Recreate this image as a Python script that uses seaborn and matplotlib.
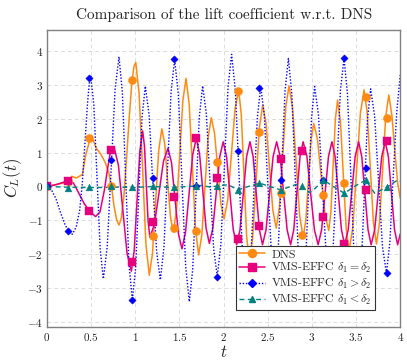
import numpy as np
import pandas as pd
import seaborn as sns
import matplotlib.pyplot as plt
from matplotlib.lines import Line2D
from matplotlib.ticker import FuncFormatter, MultipleLocator

# --- data (t, C_L) ---
dns_pts = [(0, 0), (0.06, 0.03), (0.12, 0.07), (0.19, 0.1), (0.23, 0.2), (0.25, -0.05), (0.28, 0.3),
           (0.33, 0.25), (0.40, 0.35), (0.44, 0.95), (0.49, 1.42), (0.52, 1.38), (0.56, 1.12), (0.61, 0.95),
           (0.66, 0.7), (0.70, 0.4), (0.73, 0.0), (0.76, -0.6), (0.79, -1.0), (0.815, -1.14), (0.84, -0.95),
           (0.87, -0.3), (0.90, 0.8), (0.93, 2.0), (0.96, 3.05), (0.985, 3.55), (1.005, 3.66),
           (1.043, 2.74), (1.082, 0.52), (1.120, -1.70), (1.158, -2.62), (1.194, -1.99), (1.229, -0.46),
           (1.265, 1.07), (1.30, 1.70), (1.333, 1.26), (1.365, 0.18), (1.398, -0.90), (1.43, -1.35),
           (1.466, -0.69), (1.502, 0.92), (1.538, 2.53), (1.574, 3.19), (1.610, 2.43), (1.646, 0.58),
           (1.681, -1.26), (1.717, -2.02), (1.753, -1.43), (1.789, 0.0), (1.824, 1.44), (1.86, 2.03),
           (1.896, 1.59), (1.933, 0.54), (1.969, -0.52), (2.005, -0.96), (2.046, -0.40), (2.088, 0.95),
           (2.129, 2.29), (2.17, 2.85), (2.20, 2.11), (2.23, 0.33), (2.26, -1.46), (2.29, -2.2),
           (2.328, -1.53), (2.366, 0.10), (2.404, 1.73), (2.442, 2.4), (2.48, 1.87), (2.518, 0.59),
           (2.557, -0.70), (2.595, -1.23), (2.631, -0.62), (2.668, 0.87), (2.704, 2.36), (2.74, 2.97),
           (2.78, 2.32), (2.82, 0.74), (2.86, -0.85), (2.90, -1.5), (2.93, -1.01), (2.96, 0.18),
           (2.99, 1.37), (3.02, 1.86), (3.062, 1.40), (3.105, 0.28), (3.148, -0.84), (3.19, -1.3),
           (3.215, -0.74), (3.24, 0.63), (3.265, 1.99), (3.29, 2.55), (3.323, 1.90), (3.355, 0.33),
           (3.388, -1.25), (3.42, -1.9), (3.462, -1.21), (3.505, 0.48), (3.548, 2.16), (3.59, 2.85),
           (3.625, 2.19), (3.66, 0.58), (3.695, -1.04), (3.73, -1.7), (3.765, -1.06), (3.80, 0.5),
           (3.835, 2.06), (3.87, 2.7), (3.905, 2.1), (3.94, 1.0), (3.97, 0.1), (4.0, -0.35)]

eq_pts = [(0, 0), (0.1, 0.05), (0.18, 0.12), (0.241, 0.17), (0.3, 0.1), (0.36, -0.2), (0.42, -0.5),
          (0.48, -0.72), (0.55, -0.89), (0.6, -0.75), (0.65, -0.1), (0.69, 0.6), (0.722, 1.08),
          (0.76, 1.15), (0.809, 0.62), (0.858, -0.68), (0.906, -1.97), (0.955, -2.5), (0.987, -1.90),
          (1.019, -0.43), (1.051, 1.04), (1.083, 1.64), (1.104, 1.18), (1.124, 0.07), (1.145, -1.04),
          (1.165, -1.5), (1.216, -1.12), (1.268, -0.19), (1.319, 0.75), (1.37, 1.13), (1.41, 0.70),
          (1.449, -0.36), (1.489, -1.41), (1.528, -1.84), (1.568, -1.36), (1.609, -0.21), (1.65, 0.94),
          (1.69, 1.42), (1.727, 0.97), (1.764, -0.13), (1.801, -1.23), (1.838, -1.68), (1.877, -1.24),
          (1.917, -0.18), (1.956, 0.88), (1.995, 1.32),
          (2.033, 0.88), (2.071, -0.20), (2.109, -1.28), (2.147, -1.72),
          (2.185, -1.28), (2.223, -0.20), (2.26, 0.88), (2.298, 1.32),
          (2.334, 0.88), (2.369, -0.20), (2.405, -1.28), (2.44, -1.72),
          (2.48, -1.28), (2.52, -0.20), (2.56, 0.88), (2.6, 1.32),
          (2.64, 0.88), (2.679, -0.20), (2.719, -1.28), (2.758, -1.72),
          (2.794, -1.28), (2.829, -0.20), (2.865, 0.88), (2.9, 1.32),
          (2.943, 0.88), (2.985, -0.20), (3.028, -1.28), (3.07, -1.72),
          (3.109, -1.28), (3.148, -0.20), (3.187, 0.88), (3.226, 1.32),
          (3.262, 0.88), (3.298, -0.20), (3.334, -1.28), (3.37, -1.72),
          (3.41, -1.28), (3.449, -0.20), (3.489, 0.88), (3.528, 1.32),
          (3.564, 0.88), (3.599, -0.20), (3.635, -1.28), (3.67, -1.72),
          (3.71, -1.28), (3.75, -0.20), (3.79, 0.88), (3.83, 1.32),
          (3.865, 0.88), (3.9, -0.20), (3.935, -1.28), (3.97, -1.72), (4.0, -1.4)]

gt_pts = [(0, 0), (0.05, -0.1), (0.1, -0.35), (0.15, -0.75), (0.2, -1.1), (0.241, -1.31), (0.287, -1.41),
          (0.33, -1.2), (0.37, -0.7), (0.40, 0.1), (0.43, 1.3), (0.46, 2.5), (0.481, 3.1), (0.494, 3.29),
          (0.53, 2.41), (0.566, 0.28), (0.602, -1.85), (0.638, -2.73), (0.682, -1.77), (0.727, 0.55),
          (0.771, 2.87), (0.815, 3.83), (0.853, 2.78), (0.891, 0.24), (0.928, -2.30), (0.966, -3.35),
          (1.003, -2.43), (1.04, -0.20), (1.076, 2.04), (1.113, 2.96), (1.156, 2.12), (1.198, 0.10),
          (1.241, -1.92), (1.283, -2.76), (1.324, -1.81), (1.364, 0.50), (1.405, 2.80), (1.445, 3.75),
          (1.487, 2.71), (1.528, 0.18), (1.57, -2.36), (1.611, -3.4), (1.649, -2.47), (1.687, -0.22),
          (1.724, 2.04), (1.762, 2.97), (1.804, 2.15), (1.845, 0.16), (1.887, -1.84), (1.928, -2.66),
          (1.969, -1.70), (2.009, 0.62), (2.05, 2.94), (2.09, 3.9), (2.133, 2.83), (2.176, 0.25),
          (2.219, -2.33), (2.262, -3.4), (2.302, -2.47), (2.341, -0.23), (2.381, 2.02), (2.42, 2.95),
          (2.46, 2.11), (2.5, 0.08), (2.54, -1.96), (2.58, -2.8), (2.618, -1.84), (2.657, 0.49),
          (2.695, 2.82), (2.733, 3.78), (2.772, 2.73), (2.812, 0.19), (2.851, -2.35), (2.89, -3.4),
          (2.925, -2.47), (2.96, -0.23), (2.995, 2.02), (3.03, 2.95), (3.073, 2.13), (3.115, 0.13),
          (3.158, -1.88), (3.2, -2.7), (3.241, -1.75), (3.282, 0.54), (3.322, 2.83), (3.363, 3.78),
          (3.402, 2.73), (3.442, 0.19), (3.481, -2.35), (3.52, -3.4), (3.556, -2.48), (3.592, -0.26),
          (3.628, 1.96), (3.664, 2.88), (3.709, 2.09), (3.754, 0.16), (3.798, -1.77), (3.843, -2.56),
          (3.882, -1.65), (3.92, 0.3), (3.96, 2.2), (4.0, 3.3)]

lt_pts = [(0, 1.72), (0.004, 0.0), (0.2, -0.02), (0.4, -0.03), (0.6, -0.03), (0.8, -0.02), (1.0, -0.03),
          (1.2, 0.0), (1.4, -0.03), (1.6, 0.0), (1.75, 0.03), (1.85, -0.02), (1.93, 0.02), (2.05, 0.05),
          (2.165, -0.1), (2.28, 0.0), (2.405, 0.1), (2.52, 0.0), (2.646, -0.1), (2.76, 0.0), (2.82, 0.06),
          (2.886, 0.0), (2.97, -0.18), (3.04, -0.05), (3.127, 0.2), (3.24, 0.0), (3.367, -0.2),
          (3.48, 0.0), (3.608, 0.19), (3.71, -0.2), (3.848, -0.02), (3.97, 0.19), (4.0, 0.15)]

# marker positions (every 0.2405 s)
mark_t = [0, 0.241, 0.481, 0.722, 0.962, 1.203, 1.443, 1.684, 1.924, 2.165, 2.405, 2.646, 2.886,
          3.127, 3.367, 3.608, 3.848]
dns_mark = [0, 0.15, 1.42, 0.0, 3.13, -1.45, -1.22, -1.3, 0.73, 2.82, 1.6, -0.2, -1.43, -0.25, 0.1, 2.65, 2.03]
eq_mark = [0, 0.17, -0.72, 1.08, -2.22, -1.04, -0.3, 1.42, 0.26, -1.56, -1.18, 0.8, 1.05, -0.89, -1.71, -0.1, 1.34]
gt_mark = [0, -1.31, 3.2, 0.78, -3.35, 0.24, 3.75, 0.0, -2.66, 1.05, 2.9, 0.19, -3.4, 0.19, 3.78, 0.54, -2.56]
lt_mark = [0, -0.05, -0.03, 0, -0.03, 0.01, -0.03, 0, 0.0, -0.1, 0.1, -0.1, 0.0, 0.2, -0.2, 0.19, -0.02]

labels = ['DNS', r'VMS-EFFC $\delta_1 = \delta_2$', r'VMS-EFFC $\delta_1 > \delta_2$',
          r'VMS-EFFC $\delta_1 < \delta_2$']

# --- style ---
sns.set_style('whitegrid')
plt.rcParams['font.family'] = ['cmr10', 'DejaVu Serif']
plt.rcParams['mathtext.fontset'] = 'cm'
plt.rcParams['axes.formatter.use_mathtext'] = True

orange, pink, blue, teal = '#ff8a12', '#e6007e', '#0000ff', '#008080'

fig = plt.figure(figsize=(4.07, 3.61), dpi=100)
ax = fig.add_axes([0.1155, 0.095, 0.868, 0.822])

series = [
    (dns_pts, dns_mark, orange, '-', 1.1, 'o', 34),
    (eq_pts, eq_mark, pink, '-', 1.1, 's', 30),
    (gt_pts, gt_mark, blue, (0, (1, 1.3)), 1.0, 'D', 14),
    (lt_pts, lt_mark, teal, (0, (3.5, 2.5)), 1.0, '^', 24),
]
handles = []
for (pts, mk, col, ls, lw, m, s), lab in zip(series, labels):
    df = pd.DataFrame(pts, columns=['t', 'cl'])
    sns.lineplot(data=df, x='t', y='cl', sort=False, estimator=None, ax=ax,
                 color=col, linestyle=ls, linewidth=lw)
    sns.scatterplot(x=mark_t, y=mk, ax=ax, color=col, marker=m, s=s,
                    edgecolor=col, linewidth=0.3, zorder=3)
    handles.append(Line2D([], [], color=col, linestyle=ls, linewidth=lw, marker=m,
                          markersize=np.sqrt(s), markeredgecolor=col))

ax.set_xlim(0, 4)
ax.set_ylim(-4.14, 4.62)
ax.xaxis.set_major_locator(MultipleLocator(0.5))
ax.yaxis.set_major_locator(MultipleLocator(1))
fmt = FuncFormatter(lambda v, p: f'${v:g}$')
ax.xaxis.set_major_formatter(fmt)
ax.yaxis.set_major_formatter(fmt)
ax.tick_params(labelsize=8, colors='#222222', length=3, direction='in', pad=3)
ax.tick_params(axis='both', color='#888888')
ax.grid(True, color='#dcdcdc', linestyle=(0, (4, 3)), linewidth=0.7)
for sp in ax.spines.values():
    sp.set_color('#808080')
    sp.set_linewidth(1.0)

ax.set_title('Comparison of the lift coefficient w.r.t. DNS', fontsize=11, pad=8)
ax.set_xlabel('$t$', fontsize=12, labelpad=1)
ax.set_ylabel('$C_L(t)$', fontsize=12, labelpad=2)

leg = ax.legend(handles, labels, loc='lower right', bbox_to_anchor=(0.945, 0.035),
                fontsize=8.5, frameon=True, fancybox=False, framealpha=1,
                edgecolor='#333333', borderpad=0.3, labelspacing=0.15,
                handlelength=2.2, handletextpad=0.5)
leg.get_frame().set_linewidth(0.8)
leg.set_zorder(10)

fig.savefig('out.png', dpi=100)
